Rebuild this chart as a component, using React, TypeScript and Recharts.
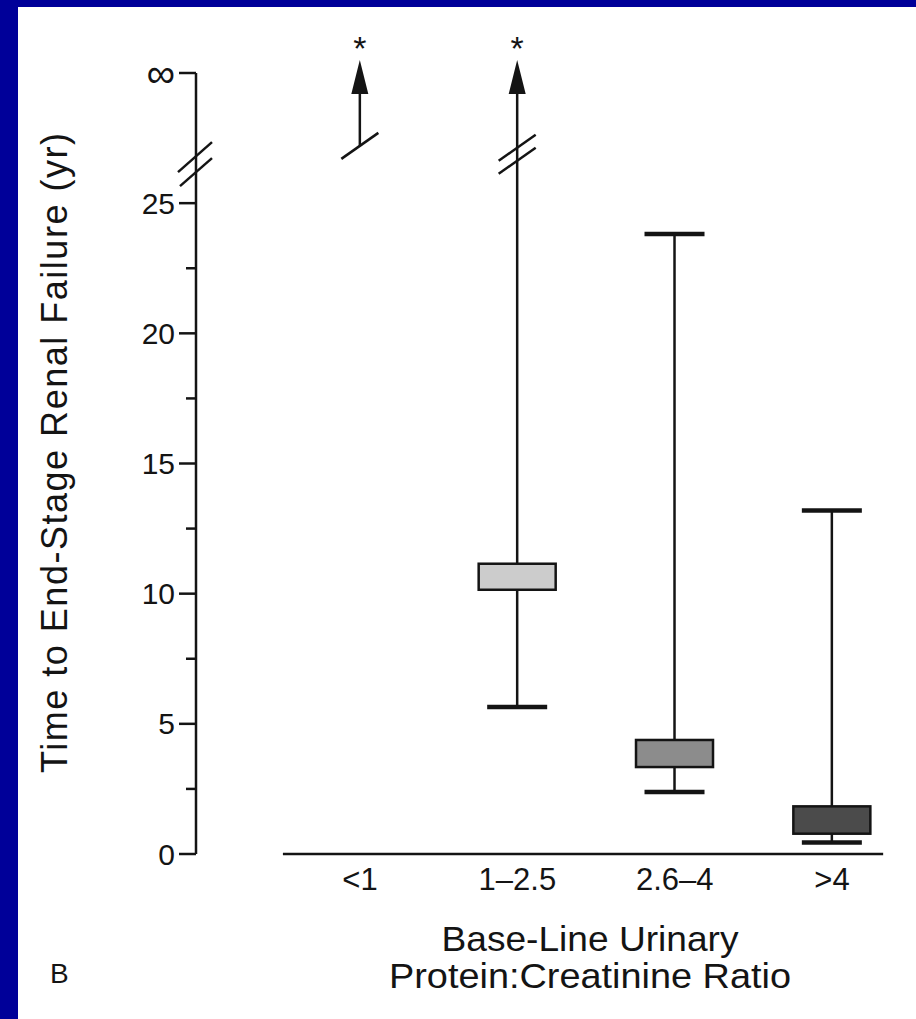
import React from "react";
import {
  ComposedChart,
  Bar,
  XAxis,
  YAxis,
  ReferenceLine,
  ReferenceDot,
  Label,
} from "recharts";

// "∞" sits at this spot on the value axis
const INF = 30;

const categories = ["<1", "1\u20132.5", "2.6\u20134", ">4"];
const whiskerLow = [27.2, 5.65, 2.38, 0.44];
const boxLow = [null, 10.15, 3.34, 0.78];
const boxHigh = [null, 11.15, 4.38, 1.83];
const whiskerHigh = [INF, INF, 23.82, 13.19];
const breakAt = [27.2, 26.88, null, null];
const breakMarks = [1, 2, 0, 0];

const yTicks = [0, 2.5, 5, 7.5, 10, 12.5, 15, 17.5, 20, 22.5, 25, INF];
const yMajor = [0, 5, 10, 15, 20, 25, INF];
const yAxisBreak = 26.5;

const boxFills = ["none", "#cccccc", "#8c8c8c", "#4b4b4b"];
const ink = "#141414";
const font = "'Liberation Sans', Arial, Helvetica, sans-serif";

const xDomain = [-0.0424, 4.413];
const xLineStart = 0.51;
const xLineEnd = 4.325;

const rows = categories.map((name, i) => ({
  idx: i + 1,
  name,
  range: [whiskerLow[i], whiskerHigh[i]],
  q1: boxLow[i],
  q3: boxHigh[i],
  brk: breakAt[i],
  marks: breakMarks[i],
  fill: boxFills[i],
}));

const BoxShape = (props: any) => {
  const { x, y, width, height, payload } = props;
  const [lo, hi] = payload.range;
  const k = height / (hi - lo);
  const py = (v: number) => y + (hi - v) * k;
  const cx = x + width / 2;
  const open = hi === INF;
  const top = open ? py(hi) + 21 : py(hi);
  const hasLowCap = payload.brk == null || payload.brk !== lo;

  return (
    <g>
      <line x1={cx} x2={cx} y1={py(lo)} y2={top} stroke={ink} strokeWidth={2.5} />
      {!open && (
        <line x1={cx - 30} x2={cx + 30} y1={py(hi)} y2={py(hi)} stroke={ink} strokeWidth={4.5} />
      )}
      {hasLowCap && (
        <line x1={cx - 30} x2={cx + 30} y1={py(lo)} y2={py(lo)} stroke={ink} strokeWidth={4.5} />
      )}
      {payload.q1 != null && (
        <rect
          x={cx - 38.5}
          y={py(payload.q3)}
          width={77}
          height={py(payload.q1) - py(payload.q3)}
          fill={payload.fill}
          stroke={ink}
          strokeWidth={2.5}
        />
      )}
      {payload.marks === 1 && (
        <line
          x1={cx - 18.5}
          y1={py(payload.brk) + 13}
          x2={cx + 18.5}
          y2={py(payload.brk) - 13}
          stroke={ink}
          strokeWidth={2.5}
        />
      )}
      {payload.marks === 2 &&
        [-6.5, 6.5].map((d) => (
          <line
            key={d}
            x1={cx - 18.5}
            y1={py(payload.brk) + d + 13}
            x2={cx + 18.5}
            y2={py(payload.brk) + d - 13}
            stroke={ink}
            strokeWidth={2.5}
          />
        ))}
      {open && (
        <>
          <polygon
            points={`${cx},${py(hi) - 13} ${cx - 8.5},${py(hi) + 21} ${cx + 8.5},${py(hi) + 21}`}
            fill={ink}
          />
          <text
            x={cx}
            y={py(hi) - 33 + 20}
            textAnchor="middle"
            fontSize={34}
            fontFamily={font}
            fill={ink}
          >
            *
          </text>
        </>
      )}
    </g>
  );
};

const YTick = (props: any) => {
  const { x, y, payload } = props;
  const v = payload.value;
  const major = yMajor.includes(v);
  return (
    <g>
      <line x1={x - (major ? 17 : 10)} x2={x} y1={y} y2={y} stroke={ink} strokeWidth={2.5} />
      {major && (
        <text
          x={x - 21}
          y={y}
          dy="0.35em"
          textAnchor="end"
          fontSize={v === INF ? 40 : 30}
          fontFamily={font}
          fill={ink}
        >
          {v === INF ? "\u221e" : v}
        </text>
      )}
    </g>
  );
};

const AxisBreak = (props: any) => {
  const { cx, cy } = props;
  return (
    <g>
      <line x1={cx - 18} y1={cy + 8} x2={cx + 16} y2={cy - 22} stroke={ink} strokeWidth={2.5} />
      <line x1={cx - 16} y1={cy + 22} x2={cx + 16} y2={cy - 6} stroke={ink} strokeWidth={2.5} />
    </g>
  );
};

export default function App() {
  return (
    <div
      style={{
        position: "absolute",
        left: 0,
        top: 0,
        width: 916,
        height: 1019,
        background: "#000099",
      }}
    >
      <div
        style={{
          position: "absolute",
          left: 18,
          top: 7,
          width: 898,
          height: 1012,
          background: "#ffffff",
        }}
      >
        <ComposedChart
          width={898}
          height={1012}
          data={rows}
          margin={{ top: 66, right: 19, bottom: 105, left: 78 }}
        >
          <XAxis
            type="number"
            dataKey="idx"
            domain={xDomain}
            ticks={[1, 2, 3, 4]}
            interval={0}
            tickFormatter={(v: number) => categories[v - 1] ?? ""}
            axisLine={false}
            tickLine={false}
            tickSize={0}
            tickMargin={14}
            height={60}
            tick={{ fill: ink, fontSize: 31, fontFamily: font }}
          >
            <Label
              content={() => (
                <g fontSize={35} fontFamily={font} fill={ink}>
                  <text
                    x={572}
                    y={944}
                    textAnchor="middle"
                    textLength={297}
                    lengthAdjust="spacingAndGlyphs"
                  >
                    Base-Line Urinary
                  </text>
                  <text
                    x={572}
                    y={981}
                    textAnchor="middle"
                    textLength={402}
                    lengthAdjust="spacingAndGlyphs"
                  >
                    Protein:Creatinine Ratio
                  </text>
                </g>
              )}
            />
          </XAxis>
          <YAxis
            type="number"
            domain={[0, INF]}
            ticks={yTicks}
            interval={0}
            width={100}
            tickSize={0}
            tickMargin={0}
            tickLine={false}
            axisLine={{ stroke: ink, strokeWidth: 2.5 }}
            tick={<YTick />}
          >
            <Label
              content={() => (
                <text
                  x={49}
                  y={446}
                  transform="rotate(-90 49 446)"
                  textAnchor="middle"
                  fontSize={36}
                  fontFamily={font}
                  fill={ink}
                  textLength={640}
                  lengthAdjust="spacing"
                >
                  Time to End-Stage Renal Failure (yr)
                </text>
              )}
            />
          </YAxis>
          <ReferenceLine
            segment={[
              { x: xLineStart, y: 0 },
              { x: xLineEnd, y: 0 },
            ]}
            stroke={ink}
            strokeWidth={2.5}
            ifOverflow="visible"
          />
          <ReferenceDot
            x={xDomain[0]}
            y={yAxisBreak}
            ifOverflow="visible"
            shape={<AxisBreak />}
          />
          <Bar dataKey="range" barSize={77} shape={<BoxShape />} isAnimationActive={false} />
        </ComposedChart>
        <div
          style={{
            position: "absolute",
            left: 32,
            top: 951,
            fontFamily: font,
            fontSize: 28,
            color: ink,
            lineHeight: "32px",
          }}
        >
          B
        </div>
      </div>
    </div>
  );
}
